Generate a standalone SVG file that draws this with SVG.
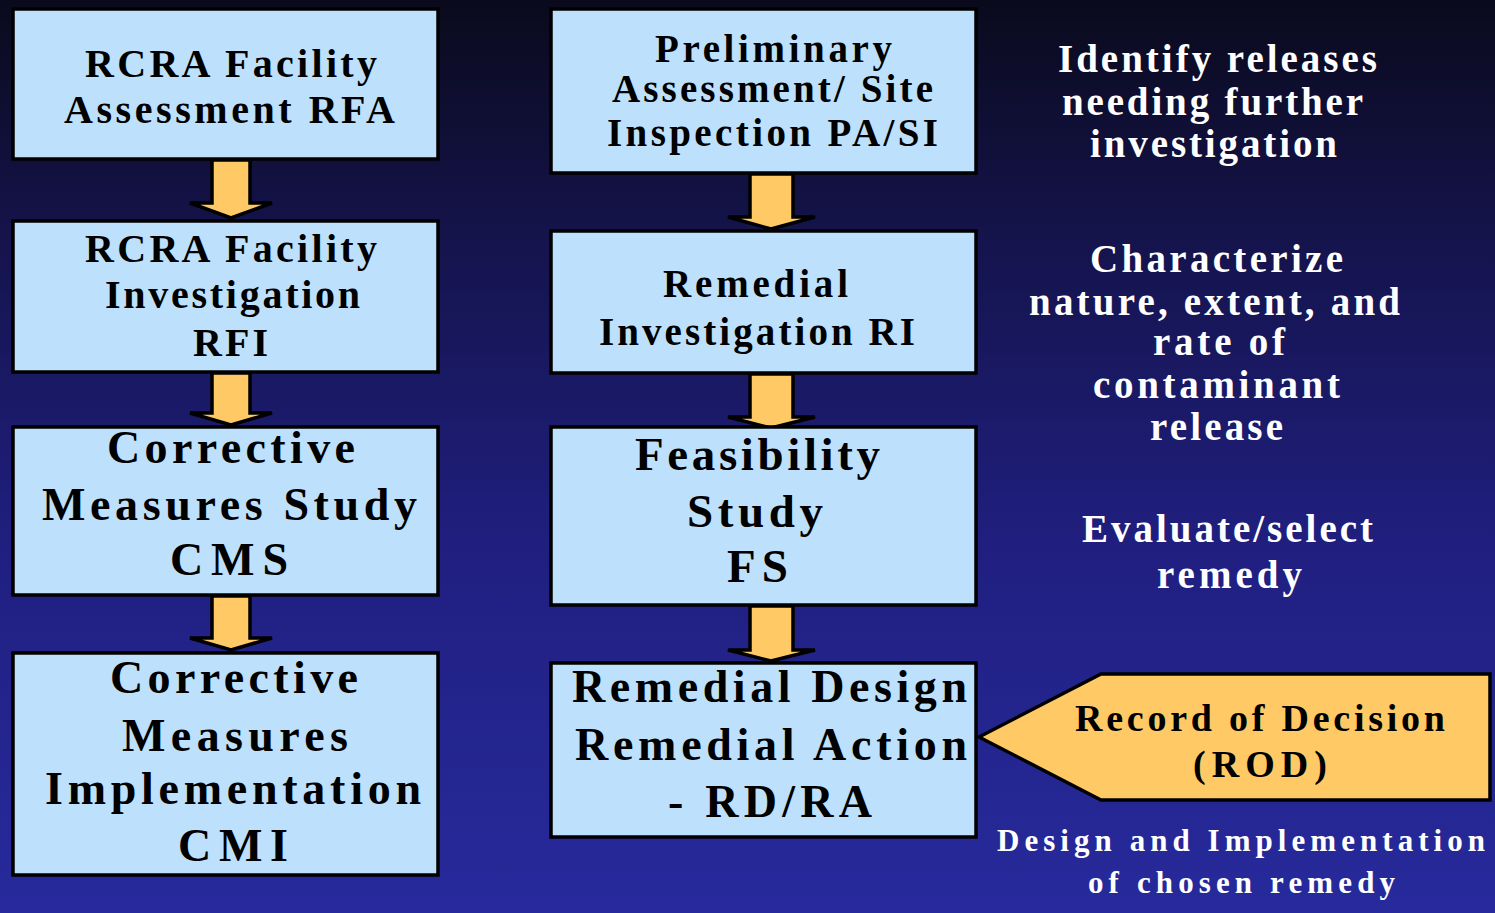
<svg xmlns="http://www.w3.org/2000/svg" width="1495" height="913" viewBox="0 0 1495 913">
  <defs>
    <linearGradient id="bg" x1="0" y1="0" x2="0" y2="1">
      <stop offset="0" stop-color="#0a0a1c"/>
      <stop offset="0.25" stop-color="#14134a"/>
      <stop offset="0.6" stop-color="#201f80"/>
      <stop offset="1" stop-color="#272a9c"/>
    </linearGradient>
    <style>
      .box { fill: #bde0fc; stroke: #000; stroke-width: 3.5; }
      .arrow { fill: #ffc966; stroke: #000; stroke-width: 3.5; stroke-linejoin: miter; }
      .t { font-weight: 700; fill: #000; }
      .w { font-weight: 700; fill: #fff; }
    </style>
  </defs>

  <rect x="0" y="0" width="1495" height="913" fill="url(#bg)"/>

  <!-- flow arrows -->
  <g id="connectors">
    <polygon class="arrow" points="212,160 250,160 250,203 272,203 231,218 190,203 212,203"/>
    <polygon class="arrow" points="212,373 250,373 250,413 272,413 231,425 190,413 212,413"/>
    <polygon class="arrow" points="212,596 250,596 250,638 272,638 231,650 190,638 212,638"/>
    <polygon class="arrow" points="750,174 793,174 793,217 815,217 771,229 728,217 750,217"/>
    <polygon class="arrow" points="750,374 793,374 793,417 815,417 771,428 728,417 750,417"/>
    <polygon class="arrow" points="750,606 793,606 793,650 815,650 771,661 728,650 750,650"/>
  </g>

  <g font-family="Liberation Serif, Times New Roman, DejaVu Serif, serif">
  <!-- RCRA column -->
  <g id="rfa">
    <rect class="box" x="13" y="9" width="425" height="150"/>
    <text class="t" font-size="40" x="85" y="77" textLength="292" lengthAdjust="spacing">RCRA Facility</text>
    <text class="t" font-size="40" x="64" y="123" textLength="331" lengthAdjust="spacing">Assessment RFA</text>
  </g>
  <g id="rfi">
    <rect class="box" x="13" y="221" width="425" height="151"/>
    <text class="t" font-size="40" x="85" y="262" textLength="292" lengthAdjust="spacing">RCRA Facility</text>
    <text class="t" font-size="40" x="105" y="308" textLength="255" lengthAdjust="spacing">Investigation</text>
    <text class="t" font-size="40" x="193" y="356" textLength="75" lengthAdjust="spacing">RFI</text>
  </g>
  <g id="cms">
    <rect class="box" x="13" y="427" width="425" height="168"/>
    <text class="t" font-size="46" x="107" y="463" textLength="248" lengthAdjust="spacing">Corrective</text>
    <text class="t" font-size="46" x="42" y="520" textLength="375" lengthAdjust="spacing">Measures Study</text>
    <text class="t" font-size="46" x="170" y="575" textLength="118" lengthAdjust="spacing">CMS</text>
  </g>
  <g id="cmi">
    <rect class="box" x="13" y="653" width="425" height="222"/>
    <text class="t" font-size="46" x="110" y="693" textLength="248" lengthAdjust="spacing">Corrective</text>
    <text class="t" font-size="46" x="122" y="751" textLength="226" lengthAdjust="spacing">Measures</text>
    <text class="t" font-size="46" x="45" y="804" textLength="376" lengthAdjust="spacing">Implementation</text>
    <text class="t" font-size="46" x="178" y="861" textLength="110" lengthAdjust="spacing">CMI</text>
  </g>

  <!-- CERCLA column -->
  <g id="pasi">
    <rect class="box" x="551" y="9" width="425" height="164"/>
    <text class="t" font-size="39" x="655" y="62" textLength="237" lengthAdjust="spacing">Preliminary</text>
    <text class="t" font-size="39" x="612" y="102" textLength="321" lengthAdjust="spacing">Assessment/ Site</text>
    <text class="t" font-size="39" x="607" y="146" textLength="331" lengthAdjust="spacing">Inspection PA/SI</text>
  </g>
  <g id="ri">
    <rect class="box" x="551" y="231" width="425" height="142"/>
    <text class="t" font-size="39" x="663" y="297" textLength="185" lengthAdjust="spacing">Remedial</text>
    <text class="t" font-size="39" x="599" y="345" textLength="316" lengthAdjust="spacing">Investigation RI</text>
  </g>
  <g id="fs">
    <rect class="box" x="551" y="427" width="425" height="178"/>
    <text class="t" font-size="47" x="635" y="470" textLength="245" lengthAdjust="spacing">Feasibility</text>
    <text class="t" font-size="47" x="687" y="527" textLength="136" lengthAdjust="spacing">Study</text>
    <text class="t" font-size="47" x="727" y="582" textLength="61" lengthAdjust="spacing">FS</text>
  </g>
  <g id="rdra">
    <rect class="box" x="551" y="663" width="425" height="174"/>
    <text class="t" font-size="46" x="572" y="702" textLength="395" lengthAdjust="spacing">Remedial Design</text>
    <text class="t" font-size="46" x="575" y="760" textLength="392" lengthAdjust="spacing">Remedial Action</text>
    <text class="t" font-size="46" x="668" y="817" textLength="204" lengthAdjust="spacing">- RD/RA</text>
  </g>

  <!-- Record of Decision callout -->
  <g id="rod">
    <polygon class="arrow" points="979,737 1101,674 1490,674 1490,800 1101,800"/>
    <text class="t" font-size="38" x="1075" y="731" textLength="370" lengthAdjust="spacing">Record of Decision</text>
    <text class="t" font-size="38" x="1193" y="777" textLength="134" lengthAdjust="spacing">(ROD)</text>
  </g>

  <!-- purpose notes -->
  <g id="note-identify">
    <text class="w" font-size="39" x="1058" y="72" textLength="319" lengthAdjust="spacing">Identify releases</text>
    <text class="w" font-size="39" x="1062" y="115" textLength="301" lengthAdjust="spacing">needing further</text>
    <text class="w" font-size="39" x="1090" y="157" textLength="247" lengthAdjust="spacing">investigation</text>
  </g>
  <g id="note-characterize">
    <text class="w" font-size="39" x="1090" y="272" textLength="253" lengthAdjust="spacing">Characterize</text>
    <text class="w" font-size="39" x="1029" y="315" textLength="371" lengthAdjust="spacing">nature, extent, and</text>
    <text class="w" font-size="39" x="1153" y="355" textLength="132" lengthAdjust="spacing">rate of</text>
    <text class="w" font-size="39" x="1093" y="398" textLength="247" lengthAdjust="spacing">contaminant</text>
    <text class="w" font-size="39" x="1150" y="440" textLength="133" lengthAdjust="spacing">release</text>
  </g>
  <g id="note-evaluate">
    <text class="w" font-size="39" x="1082" y="542" textLength="291" lengthAdjust="spacing">Evaluate/select</text>
    <text class="w" font-size="39" x="1157" y="588" textLength="145" lengthAdjust="spacing">remedy</text>
  </g>
  <g id="note-design">
    <text class="w" font-size="31" x="997" y="851" textLength="488" lengthAdjust="spacing">Design and Implementation</text>
    <text class="w" font-size="31" x="1088" y="893" textLength="307" lengthAdjust="spacing">of chosen remedy</text>
  </g>
  </g>
</svg>
